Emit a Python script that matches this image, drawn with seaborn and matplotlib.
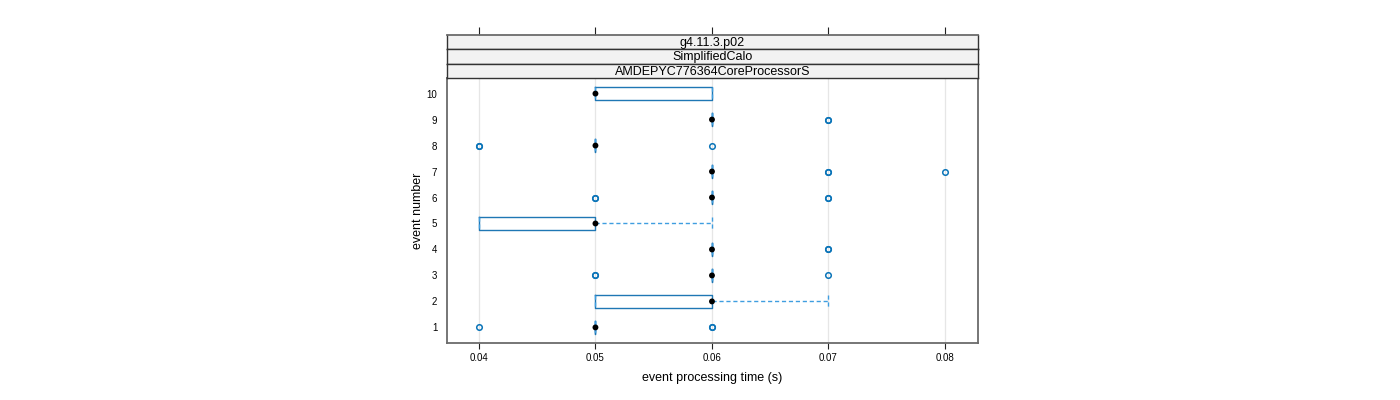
import numpy as np
import pandas as pd
import matplotlib
matplotlib.use("Agg")
import matplotlib.pyplot as plt
import seaborn as sns

# repeated timings (s) per event
t_ev01 = [0.04, 0.05, 0.05, 0.05, 0.05, 0.05, 0.05, 0.06, 0.06]
t_ev02 = [0.05, 0.05, 0.05, 0.06, 0.06, 0.06, 0.06, 0.07, 0.07]
t_ev03 = [0.05, 0.05, 0.06, 0.06, 0.06, 0.06, 0.06, 0.06, 0.07]
t_ev04 = [0.06, 0.06, 0.06, 0.06, 0.06, 0.06, 0.06, 0.07, 0.07]
t_ev05 = [0.04, 0.04, 0.04, 0.05, 0.05, 0.05, 0.05, 0.06, 0.06]
t_ev06 = [0.05, 0.05, 0.06, 0.06, 0.06, 0.06, 0.06, 0.07, 0.07]
t_ev07 = [0.06, 0.06, 0.06, 0.06, 0.06, 0.06, 0.06, 0.06, 0.06, 0.06,
          0.07, 0.07, 0.08]
t_ev08 = [0.04, 0.04, 0.05, 0.05, 0.05, 0.05, 0.05, 0.05, 0.06]
t_ev09 = [0.06, 0.06, 0.06, 0.06, 0.06, 0.06, 0.06, 0.07, 0.07]
t_ev10 = [0.05, 0.05, 0.05, 0.06, 0.06]

event_ids = [1, 2, 3, 4, 5, 6, 7, 8, 9, 10]
strip_labels = ["g4.11.3.p02", "SimplifiedCalo", "AMDEPYC776364CoreProcessorS"]
x_ticks = [0.04, 0.05, 0.06, 0.07, 0.08]

all_times = [t_ev01, t_ev02, t_ev03, t_ev04, t_ev05,
             t_ev06, t_ev07, t_ev08, t_ev09, t_ev10]
df = pd.DataFrame({
    "event": [str(e) for e, ts in zip(event_ids, all_times) for _ in ts],
    "time": [t for ts in all_times for t in ts],
})
order = [str(e) for e in event_ids[::-1]]
medians = df.groupby("event")["time"].median().reindex(order).reset_index()

BLUE = "#0a74b8"
LIGHT = "#3f9ee0"
W, H = 1400, 400
fig = plt.figure(figsize=(14, 4), dpi=100)
plt.rcParams["font.family"] = ["Liberation Sans", "DejaVu Sans"]

def box(x0, y0, x1, y1):
    return [x0 / W, 1 - y1 / H, (x1 - x0) / W, (y1 - y0) / H]

ax = fig.add_axes(box(447, 78, 978, 343))
xlim = (0.03726, 0.08283)

for xt in x_ticks:
    ax.axvline(xt, color="#e6e6e6", lw=0.9, zorder=0)

sns.boxplot(data=df, x="time", y="event", order=order, orient="h", ax=ax,
            width=0.5, fill=False, linecolor=BLUE, linewidth=1.0, whis=1.5,
            capwidths=0.5,
            flierprops=dict(marker="o", markersize=4, markerfacecolor="none",
                            markeredgecolor=BLUE, markeredgewidth=1.1),
            whiskerprops=dict(linestyle=(0, (3, 2)), color=LIGHT, linewidth=1.0),
            capprops=dict(color=LIGHT, linewidth=1.0, linestyle=(0, (3, 2))),
            medianprops=dict(linewidth=0))
sns.scatterplot(data=medians, x="time", y="event", ax=ax, color="black",
                s=18, edgecolor="none", zorder=5, legend=False)

ax.set_xlim(*xlim)
ax.set_ylim(9.6, -0.6)
ax.set_xticks(x_ticks)
ax.set_xticklabels([f"{v:.2f}" for v in x_ticks], fontsize=7)
ax.tick_params(axis="x", length=4, width=0.8, color="#222222", pad=3)
ax.tick_params(axis="y", length=0, labelsize=7, pad=7)
ax.set_xlabel("event processing time (s)", fontsize=9, labelpad=7)
ax.set_ylabel("event number", fontsize=9, labelpad=2)
for sp in ax.spines.values():
    sp.set_color("#6b6b6b")
    sp.set_linewidth(1.3)
ax.set_facecolor("white")

strip_h = (78 - 35) / 3
for i, lab in enumerate(strip_labels):
    y0 = 35 + i * strip_h
    sax = fig.add_axes(box(447, y0, 978, y0 + strip_h))
    sax.set_facecolor("#f2f2f2")
    sax.set_xlim(*xlim)
    sax.set_yticks([])
    sax.text(0.5, 0.45, lab, transform=sax.transAxes, ha="center", va="center",
             fontsize=9)
    for sp in sax.spines.values():
        sp.set_color("#333333")
        sp.set_linewidth(1.0)
    if i == 0:
        sax.set_xticks(x_ticks)
        sax.xaxis.tick_top()
        sax.tick_params(axis="x", length=6, width=0.8, color="#222222",
                        labeltop=False, labelbottom=False)
        sax.spines["top"].set_color("#6b6b6b")
        sax.spines["top"].set_linewidth(1.3)
    else:
        sax.set_xticks([])

fig.savefig("out.png", dpi=100)
